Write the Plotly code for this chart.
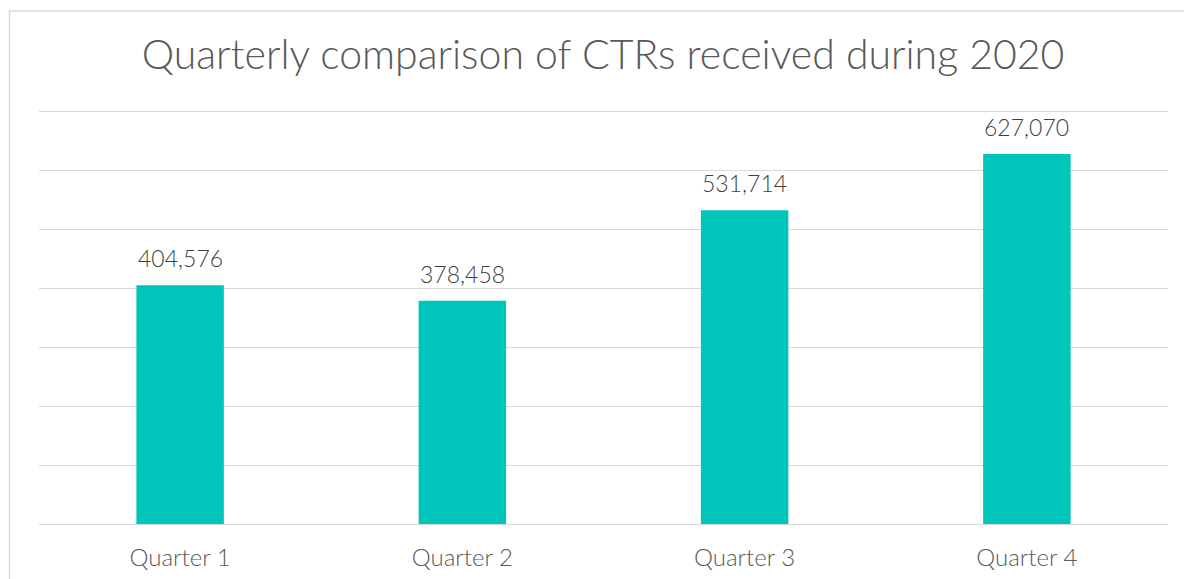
import plotly.graph_objects as go

categories = ["Quarter 1", "Quarter 2", "Quarter 3", "Quarter 4"]
values = [404576, 378458, 531714, 627070]
title_text = "Quarterly comparison of CTRs received during 2020"

W, H = 1184, 579
ml, mr, mt, mb = 39, 16, 105, 55
pw = W - ml - mr
ph = H - mt - mb
ymax = 700000 * ph / 413.0  # 700k grid line sits at y=111, 6px inside the top

FONT = "Lato, 'Century Gothic', sans-serif"

fig = go.Figure(go.Bar(
    x=categories, y=values,
    marker=dict(color="#00C5BB", line=dict(width=0)),
    hoverinfo="x+y",
))

for c, v in zip(categories, values):
    fig.add_annotation(x=c, y=v, text=f"{v:,}", showarrow=False,
                       yanchor="bottom", yshift=11,
                       font=dict(family=FONT, size=23, color="#404040", weight=300))

# chart border (outer frame)
fig.add_shape(type="rect", xref="paper", yref="paper",
              x0=(9.5 - ml) / pw, x1=(W + 20 - ml) / pw,
              y0=-(mb + 20) / ph, y1=(H - 11 - mb) / ph,
              line=dict(color="#d9d9d9", width=1.5), fillcolor="rgba(0,0,0,0)", layer="below")

fig.update_layout(
    width=W, height=H,
    margin=dict(l=ml, r=mr, t=mt, b=mb, pad=0, autoexpand=False),
    paper_bgcolor="white", plot_bgcolor="white",
    bargap=0.69,
    showlegend=False,
    title=dict(text=title_text, xref="paper", x=(603 - ml) / pw, xanchor="center",
               y=1 - 55 / H, yanchor="middle",
               font=dict(family=FONT, size=41, color="#595959", weight=300)),
    xaxis=dict(showgrid=False, showline=False, ticks="", ticklabelstandoff=17, automargin=False,
               tickfont=dict(family=FONT, size=24, color="#595959", weight=300)),
    yaxis=dict(range=[0, ymax], tickvals=[0, 100000, 200000, 300000, 400000, 500000, 600000, 700000],
               showgrid=True, gridcolor="#d9d9d9", automargin=False,
               gridwidth=1, showticklabels=False, zeroline=True, zerolinecolor="#d9d9d9",
               zerolinewidth=1, showline=False),
)

fig.write_html("out.html", config={"displayModeBar": False})
with open("out.html", encoding="utf-8") as f:
    html = f.read()
html = html.replace("<head>", "<head><style>html,body{margin:0;padding:0;overflow:hidden;}</style>", 1)
with open("out.html", "w", encoding="utf-8") as f:
    f.write(html)
